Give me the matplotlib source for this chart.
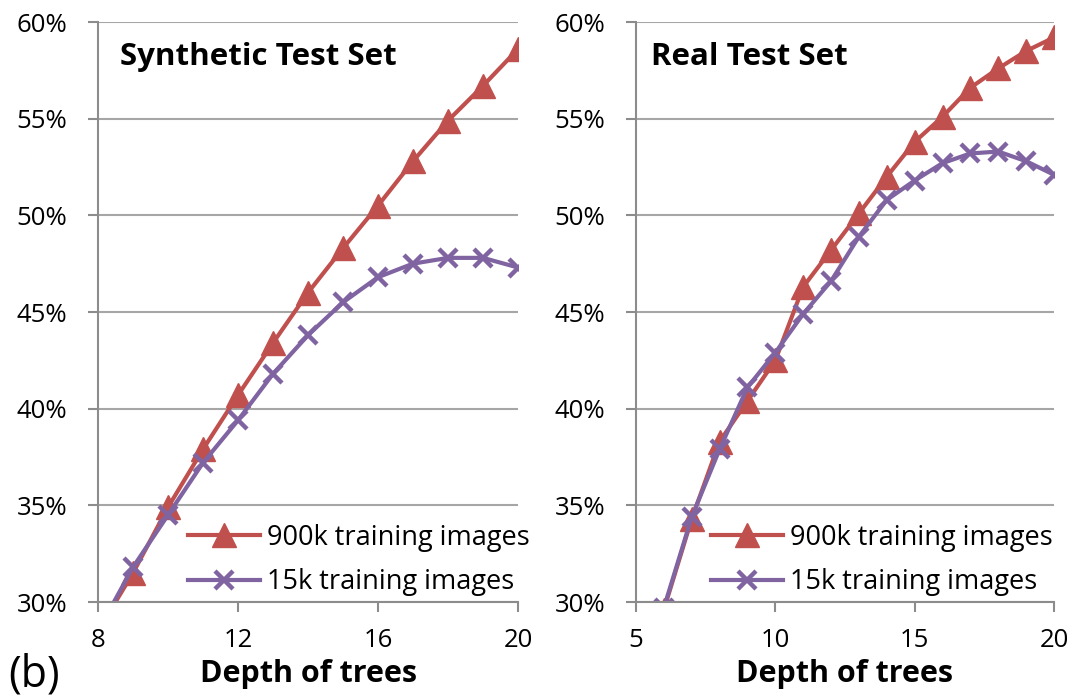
import matplotlib
matplotlib.use("Agg")
import matplotlib.pyplot as plt
from matplotlib.ticker import FuncFormatter

plt.rcParams['font.family'] = ['Open Sans', 'DejaVu Sans']

# Synthetic test set
syn_depth = [8, 9, 10, 11, 12, 13, 14, 15, 16, 17, 18, 19, 20]
syn_900k = [28.5, 31.5, 34.9, 37.9, 40.7, 43.4, 46.0, 48.3, 50.5, 52.8, 54.9, 56.7, 58.6]
syn_15k = [28.5, 31.8, 34.5, 37.2, 39.4, 41.8, 43.8, 45.5, 46.8, 47.5, 47.8, 47.8, 47.3]

# Real test set
real_depth = [6, 7, 8, 9, 10, 11, 12, 13, 14, 15, 16, 17, 18, 19, 20]
real_900k = [29.6, 34.3, 38.3, 40.4, 42.5, 46.3, 48.2, 50.1, 52.0, 53.8, 55.1, 56.6, 57.6, 58.5, 59.2]
real_15k = [29.7, 34.4, 37.9, 41.1, 42.9, 44.9, 46.6, 48.9, 50.8, 51.8, 52.7, 53.2, 53.3, 52.8, 52.1]

yticks = [30, 35, 40, 45, 50, 55, 60]
syn_xticks = [8, 12, 16, 20]
real_xticks = [5, 10, 15, 20]

RED = '#C0504D'
PURPLE = '#8064A2'
GRID = '#A6A6A6'

fig = plt.figure(figsize=(10.76, 6.99), dpi=100)
W, H = 1076, 699

def make_ax(x0, x1, xlim, xticks, depth, s900, s15, title, tx, legx):
    ax = fig.add_axes([x0 / W, 1 - 602 / H, (x1 - x0) / W, 580 / H])
    ax.set_xlim(*xlim)
    ax.set_ylim(30, 60)
    ax.set_yticks(yticks)
    ax.set_xticks(xticks)
    ax.yaxis.set_major_formatter(FuncFormatter(lambda v, p: f"{v:.0f}%"))
    ax.grid(axis='y', color=GRID, linewidth=1.5)
    ax.set_axisbelow(True)
    for s in ['top', 'right']:
        ax.spines[s].set_visible(False)
    for s in ['left', 'bottom']:
        ax.spines[s].set_color('#8C8C8C')
        ax.spines[s].set_linewidth(1.5)
    ax.tick_params(axis='y', length=7, width=1.5, color='#8C8C8C', labelsize=18.5, pad=15)
    ax.tick_params(axis='x', length=7, width=1.5, color='#8C8C8C', labelsize=18.5, pad=12)
    ax.plot(depth, s900, color=RED, lw=3, marker='^', ms=17, mec=RED, mfc=RED,
            label='900k training images', clip_on=True)
    ax.plot(depth, s15, color=PURPLE, lw=3, marker='x', ms=13, mew=3.2,
            mec=PURPLE, label='15k training images', clip_on=True)
    ax.text(tx, 0.94, title, transform=ax.transAxes, fontsize=22.5, fontweight='bold',
            va='center', ha='left')
    ax.set_xlabel('Depth of trees', fontsize=22, fontweight='bold')
    ax.xaxis.set_label_coords(0.5, -0.098)
    ax.legend(loc='lower left', bbox_to_anchor=(legx, 0.01), frameon=False,
              fontsize=19.5, handlelength=2.65, handletextpad=0.26,
              labelspacing=0.6, borderaxespad=0.0, borderpad=0.0)
    return ax

make_ax(98, 518, (8, 20), syn_xticks, syn_depth, syn_900k, syn_15k,
        'Synthetic Test Set', 0.052, 0.215)
make_ax(636, 1054, (5, 20), real_xticks, real_depth, real_900k, real_15k,
        'Real Test Set', 0.035, 0.18)

fig.text(8 / W, 1 - 675 / H, '(b)', fontsize=31, va='center', ha='left')

fig.savefig('out.png', dpi=100)
